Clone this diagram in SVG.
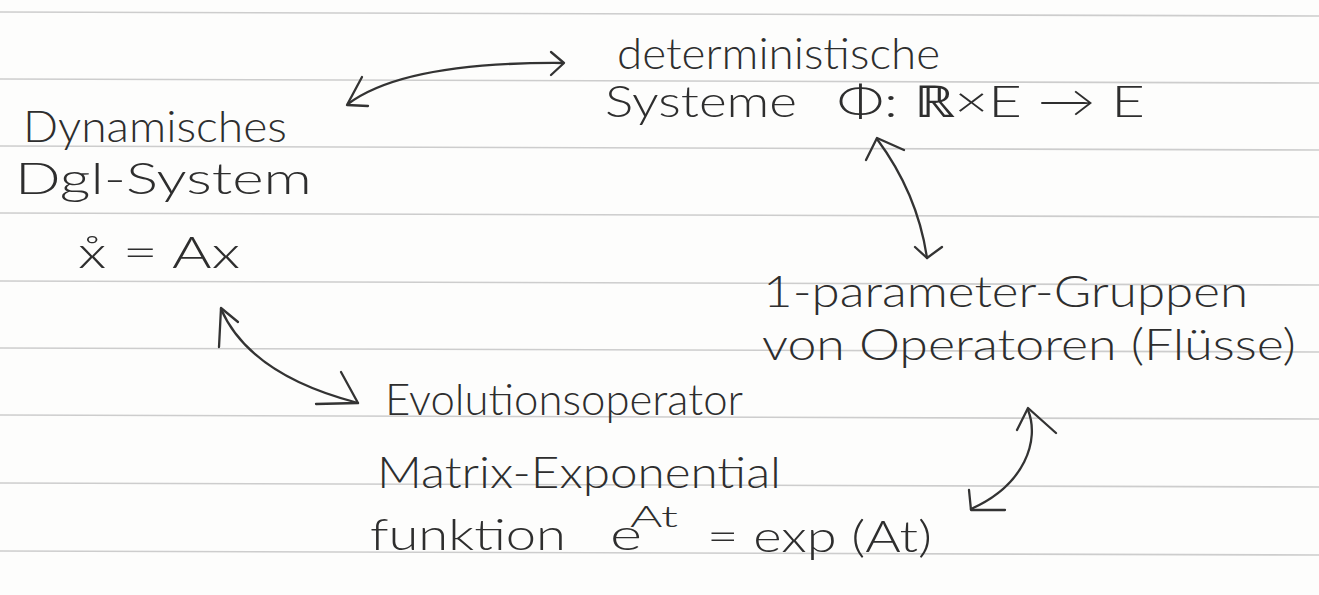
<svg xmlns="http://www.w3.org/2000/svg" width="1319" height="595" viewBox="0 0 1319 595">
<style>
.rule{stroke:#cdcdcd;stroke-width:1.6;fill:none}
.t{font-family:"Lato","Liberation Sans",sans-serif;font-weight:300;font-size:44px;fill:#2e2e2e}
.sup{font-size:29px}
.c{stroke:#333;stroke-width:2.3;fill:none;stroke-linecap:round;stroke-linejoin:round}
</style>
<rect width="1319" height="595" fill="#fdfdfc"/>
<g id="ruling">
<line class="rule" x1="0" y1="12" x2="1319" y2="16"/>
<line class="rule" x1="0" y1="79" x2="1319" y2="83"/>
<line class="rule" x1="0" y1="146" x2="1319" y2="150"/>
<line class="rule" x1="0" y1="213" x2="1319" y2="217"/>
<line class="rule" x1="0" y1="281" x2="1319" y2="285"/>
<line class="rule" x1="0" y1="348" x2="1319" y2="352"/>
<line class="rule" x1="0" y1="415" x2="1319" y2="419"/>
<line class="rule" x1="0" y1="483" x2="1319" y2="487"/>
<line class="rule" x1="0" y1="551" x2="1319" y2="555"/>
</g>
<g id="n-dynamisch">
<text class="t" x="23" y="142" textLength="264" lengthAdjust="spacingAndGlyphs">Dynamisches</text>
<text class="t" x="15" y="194" textLength="297" lengthAdjust="spacingAndGlyphs">Dgl-System</text>
<text class="t" x="78" y="268" textLength="162" lengthAdjust="spacingAndGlyphs">x̊ = Ax</text>
</g>
<g id="n-deterministisch">
<text class="t" x="617" y="69" textLength="323" lengthAdjust="spacingAndGlyphs">deterministische</text>
<text class="t" x="605" y="117" textLength="192" lengthAdjust="spacingAndGlyphs">Systeme</text>
<text class="t" x="837" y="117" textLength="308" lengthAdjust="spacingAndGlyphs">Φ: ℝ×E → E</text>
</g>
<g id="n-gruppen">
<text class="t" x="763" y="307" textLength="485" lengthAdjust="spacingAndGlyphs">1-parameter-Gruppen</text>
<text class="t" x="762" y="360" textLength="534" lengthAdjust="spacingAndGlyphs">von Operatoren (Flüsse)</text>
</g>
<g id="n-evolution">
<text class="t" x="385" y="415" textLength="358" lengthAdjust="spacingAndGlyphs">Evolutionsoperator</text>
<text class="t" x="377" y="488" textLength="404" lengthAdjust="spacingAndGlyphs">Matrix-Exponential</text>
<text class="t" x="370" y="550" textLength="196" lengthAdjust="spacingAndGlyphs">funktion</text>
<text class="t" x="610" y="550" textLength="32" lengthAdjust="spacingAndGlyphs">e</text>
<text class="t sup" x="630" y="527" textLength="48" lengthAdjust="spacingAndGlyphs">At</text>
<text class="t" x="707" y="552" textLength="225" lengthAdjust="spacingAndGlyphs">= exp (At)</text>
</g>
<g id="connectors">
<path class="c" d="M348,104 C380,80 440,62 563,63"/>
<polyline class="c" points="362,77 347,105 368,106"/>
<polyline class="c" points="551,52 564,63 551,75"/>
<path class="c" d="M877,139 C900,170 920,210 927,258"/>
<polyline class="c" points="866,160 877,138 904,150"/>
<polyline class="c" points="915,247 927,258 942,247"/>
<path class="c" d="M221,309 Q250,375 358,403"/>
<polyline class="c" points="219,347 221,308 238,322"/>
<polyline class="c" points="341,372 358,403 316,404"/>
<path class="c" d="M1028,410 C1040,440 1025,485 971,509"/>
<polyline class="c" points="1017,430 1028,408 1056,433"/>
<polyline class="c" points="969,490 971,510 1005,510"/>
</g>
</svg>
